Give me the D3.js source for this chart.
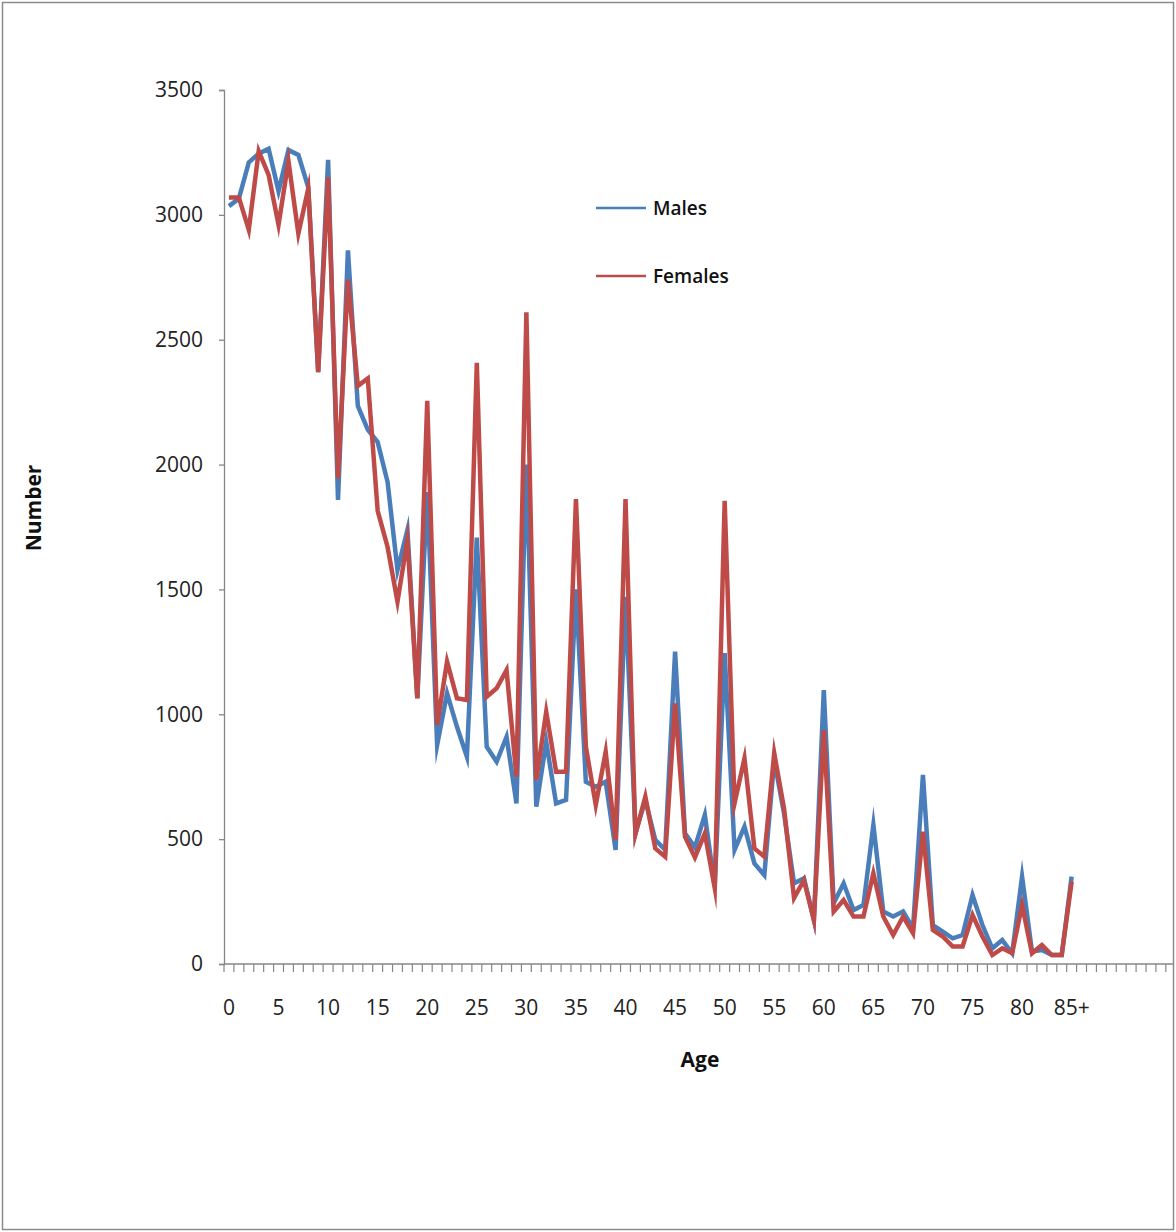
<!DOCTYPE html>
<html>
<head>
<meta charset="utf-8">
<script src="https://cdn.jsdelivr.net/npm/d3@7"></script>
<style>
  html, body { margin: 0; padding: 0; background: #fff; }
  svg { display: block; }
</style>
</head>
<body>
<svg id="chart" width="1176" height="1232"></svg>
<script>
// ---- data ----
const ageLabels = ["0","1","2","3","4","5","6","7","8","9","10","11","12","13","14","15","16","17","18","19",
  "20","21","22","23","24","25","26","27","28","29","30","31","32","33","34","35","36","37","38","39",
  "40","41","42","43","44","45","46","47","48","49","50","51","52","53","54","55","56","57","58","59",
  "60","61","62","63","64","65","66","67","68","69","70","71","72","73","74","75","76","77","78","79",
  "80","81","82","83","84","85+"];
const emptySlots = 10; // empty categories after 85+ on the axis
const males = [3035,3065,3210,3245,3265,3095,3260,3240,3110,2370,
  3220,1858,2858,2235,2140,2090,1930,1578,1738,1065,
  1890,877,1084,950,830,1708,870,810,910,643,
  2000,630,890,643,657,1500,730,710,730,457,
  1470,524,657,497,457,1251,523,467,597,310,
  1245,457,550,403,356,817,600,323,343,176,
  1097,243,323,216,236,557,210,190,210,143,
  757,156,130,103,116,276,156,63,96,43,
  350,50,56,36,36,350];
const females = [3070,3070,2940,3255,3160,2960,3215,2925,3105,2370,
  3150,1945,2740,2315,2345,1815,1670,1451,1698,1064,
  2255,957,1211,1064,1057,2407,1070,1104,1177,750,
  2610,737,1010,770,770,1862,870,637,850,497,
  1862,520,670,463,430,1044,510,427,523,304,
  1855,644,824,463,430,844,620,264,336,176,
  937,210,256,190,190,363,190,116,190,123,
  530,136,110,70,70,196,110,36,63,43,
  236,43,76,36,36,330];
const yTicks = [0,500,1000,1500,2000,2500,3000,3500];
const seriesNames = ["Males","Females"];

// ---- layout ----
const W = 1176, H = 1232;
const plotLeft = 224, plotTop = 90, plotBottom = 964;
const step = 9.914;
const nCats = ageLabels.length + emptySlots;
const plotRight = plotLeft + nCats * step;
const font = "'Open Sans', 'Noto Sans', sans-serif";
const colors = {Males: "#4a7ebb", Females: "#be4b48"};

const svg = d3.select("#chart");

svg.append("defs").append("clipPath").attr("id","frameClip")
  .append("rect").attr("x",3).attr("y",3).attr("width",W-6).attr("height",H-6);

const g = svg.append("g").attr("clip-path","url(#frameClip)");

const x = d3.scaleBand().domain(d3.range(nCats)).range([plotLeft, plotRight]).padding(0);
const y = d3.scaleLinear().domain([0,3500]).range([plotBottom, plotTop]);

// y axis
const yAxis = g.append("g").attr("transform", `translate(${plotLeft},0)`)
  .call(d3.axisLeft(y).tickValues(yTicks).tickSize(5).tickPadding(16).tickFormat(d3.format("d")));
yAxis.select(".domain").attr("stroke","#868686").attr("stroke-width",1.3);
yAxis.selectAll(".tick line").attr("stroke","#868686").attr("stroke-width",1.3);
yAxis.selectAll("text").attr("font-family",font).attr("font-size",21).attr("fill","#222");

// x axis: ticks at band boundaries
const xAxisG = g.append("g").attr("transform", `translate(0,${plotBottom})`);
xAxisG.append("line").attr("x1",plotLeft).attr("x2",plotRight).attr("y1",0).attr("y2",0)
  .attr("stroke","#868686").attr("stroke-width",1.3);
xAxisG.selectAll("line.tk").data(d3.range(nCats+1)).join("line").attr("class","tk")
  .attr("x1", i => i < nCats ? x(i) : plotRight).attr("x2", i => i < nCats ? x(i) : plotRight)
  .attr("y1",0).attr("y2",8).attr("stroke","#868686").attr("stroke-width",1.2);
xAxisG.selectAll("text").data(ageLabels.map((l,i)=>({l,i})).filter(d => d.i % 5 === 0))
  .join("text")
  .attr("x", d => x(d.i) + x.bandwidth()/2)
  .attr("y", 51)
  .attr("text-anchor","middle")
  .attr("font-family",font).attr("font-size",21).attr("fill","#222")
  .text(d => d.l);

// lines
const line = d3.line().x((d,i) => x(i) + x.bandwidth()/2).y(d => y(d));
[["Males",males],["Females",females]].forEach(([name, vals]) => {
  g.append("path").datum(vals)
    .attr("fill","none").attr("stroke",colors[name]).attr("stroke-width",4.5)
    .attr("stroke-linejoin","miter").attr("stroke-miterlimit",10)
    .attr("d", line);
});

// axis titles
g.append("text").attr("x",700).attr("y",1067).attr("text-anchor","middle")
  .attr("font-family",font).attr("font-weight","bold").attr("font-size",21).attr("fill","#111")
  .text("Age");
g.append("text").attr("transform","translate(41,508) rotate(-90)").attr("text-anchor","middle")
  .attr("font-family",font).attr("font-weight","bold").attr("font-size",21).attr("fill","#111")
  .text("Number");

// legend
const legendY = [208, 276];
seriesNames.forEach((name, k) => {
  g.append("line").attr("x1",596).attr("x2",646).attr("y1",legendY[k]).attr("y2",legendY[k])
    .attr("stroke",colors[name]).attr("stroke-width",2.5);
  g.append("text").attr("x",653).attr("y",legendY[k]).attr("dy","0.36em")
    .attr("font-family",font).attr("font-weight",600).attr("font-size",19).attr("fill","#111")
    .text(name);
});

// frame
svg.append("rect").attr("x",2.5).attr("y",2.5).attr("width",W-5).attr("height",H-5)
  .attr("fill","none").attr("stroke","#8c8c8c").attr("stroke-width",1.5);
</script>
</body>
</html>
